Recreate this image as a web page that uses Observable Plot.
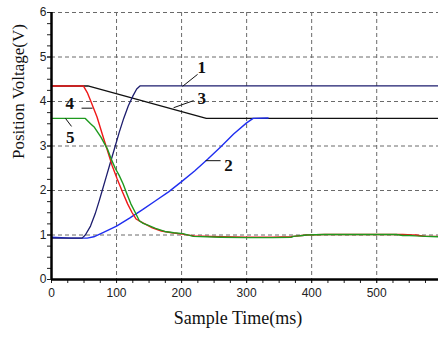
<!DOCTYPE html>
<html><head><meta charset="utf-8">
<script src="https://cdn.jsdelivr.net/npm/d3@7"></script>
<script src="https://cdn.jsdelivr.net/npm/@observablehq/plot@0.6"></script>
<style>body{margin:0;background:#fff}</style>
</head><body>
<script>
// Curve 1 (navy)
const t1 = [0, 47, 52, 60, 67, 73, 78, 84, 90, 97, 104, 111, 118, 125, 131, 136, 595];
const v1 = [0.93, 0.93, 1.0, 1.2, 1.47, 1.75, 2.0, 2.3, 2.6, 2.95, 3.3, 3.62, 3.9, 4.12, 4.28, 4.35, 4.35];
// Curve 2 (blue)
const t2 = [0, 30, 55, 65, 80, 100, 120, 140, 160, 180, 200, 220, 240, 260, 280, 300, 310, 333];
const v2 = [0.95, 0.93, 0.93, 0.96, 1.06, 1.2, 1.38, 1.57, 1.77, 1.97, 2.2, 2.44, 2.7, 2.98, 3.27, 3.52, 3.62, 3.63];
// Curve 3 (black)
const t3 = [0, 56, 238, 595];
const v3 = [4.35, 4.35, 3.62, 3.62];
// Curve 4 (red)
const t4 = [0, 49, 55, 60, 70, 78, 86, 93, 101, 109, 117, 124, 130, 137, 145, 155, 169, 185, 201, 219, 260, 300, 340, 368, 372, 385, 392, 420, 460, 500, 540, 555, 560, 565, 575, 595];
const v4 = [4.35, 4.35, 4.2, 4.02, 3.65, 3.27, 2.9, 2.57, 2.26, 1.97, 1.70, 1.5, 1.36, 1.3, 1.24, 1.16, 1.09, 1.05, 1.02, 0.98, 0.96, 0.95, 0.95, 0.96, 0.97, 0.99, 1.0, 1.01, 1.01, 1.01, 1.01, 1.0, 1.0, 0.99, 0.97, 0.97];
// Curve 5 (green)
const t5 = [0, 52, 60, 66, 76, 86, 92, 98, 104, 110, 116, 122, 129, 135, 141, 148, 160, 174, 188, 202, 218, 260, 300, 340, 369, 372, 386, 392, 420, 460, 500, 530, 540, 550, 560, 575, 595];
const v5 = [3.62, 3.62, 3.5, 3.42, 3.2, 2.93, 2.7, 2.5, 2.34, 2.15, 1.92, 1.70, 1.5, 1.32, 1.26, 1.22, 1.15, 1.08, 1.05, 1.03, 0.97, 0.95, 0.94, 0.94, 0.95, 0.97, 0.99, 1.0, 1.01, 1.01, 1.01, 1.01, 0.99, 0.99, 0.98, 0.97, 0.96];

const xTicks = [0, 100, 200, 300, 400, 500];
const yTicks = [0, 1, 2, 3, 4, 5, 6];
const xMinor = d3.range(0, 600, 25);
const yMinor = d3.range(0, 6.01, 0.25);

const labelNames = ["1", "2", "3", "4", "5"];
const labelX = [231, 272, 231, 28, 29];
const labelY = [4.77, 2.56, 4.07, 3.95, 3.19];
// leader lines: [x1, y1, x2, y2]
const leadX1 = [201.5, 237, 187.7, 46.2, 21.5];
const leadY1 = [4.34, 2.67, 3.86, 3.85, 3.62];
const leadX2 = [224.6, 260, 218.5, 63.1, 30.8];
const leadY2 = [4.61, 2.67, 4.02, 3.85, 3.44];

const pts = (t, v) => t.map((x, i) => ({t: x, v: v[i]}));
const labels = labelNames.map((n, i) => ({n, x: labelX[i], y: labelY[i]}));
const leads = labelNames.map((n, i) => ({x1: leadX1[i], y1: leadY1[i], x2: leadX2[i], y2: leadY2[i]}));

const tickFont = "Liberation Sans, Arial, sans-serif";
const serif = "Liberation Serif, Times New Roman, serif";
const gridStyle = {stroke: "#6a6a6a", strokeOpacity: 1, strokeDasharray: "4,3", strokeWidth: 1};

const chart = Plot.plot({
  width: 438, height: 339,
  marginLeft: 51, marginRight: 0, marginTop: 12, marginBottom: 60,
  x: {domain: [0, 595]},
  y: {domain: [0, 6]},
  style: {background: "#fff", color: "#222"},
  marks: [
    Plot.gridX(xTicks.slice(1), gridStyle),
    Plot.gridY(yTicks.slice(1), gridStyle),
    Plot.axisX(xMinor, {tickSize: 4, tickFormat: () => "", label: null}),
    Plot.axisX(xTicks, {tickSize: 4, tickPadding: 5, fontSize: 12, fontFamily: tickFont, label: null}),
    Plot.axisY(yMinor, {tickSize: 4, tickFormat: () => "", label: null}),
    Plot.axisY(yTicks, {tickSize: 4, tickPadding: 1, fontSize: 12, fontFamily: tickFont, label: null}),
    Plot.line(pts(t3, v3), {x: "t", y: "v", stroke: "#111", strokeWidth: 1.4}),
    Plot.line(pts(t2, v2), {x: "t", y: "v", stroke: "#1f2ef0", strokeWidth: 1.4}),
    Plot.line(pts(t1, v1), {x: "t", y: "v", stroke: "#1d1d6e", strokeWidth: 1.3}),
    Plot.line(pts(t4, v4), {x: "t", y: "v", stroke: "#f01818", strokeWidth: 1.4}),
    Plot.line(pts(t5, v5), {x: "t", y: "v", stroke: "#1f9a1f", strokeWidth: 1.4}),
    Plot.link(leads, {x1: "x1", y1: "y1", x2: "x2", y2: "y2", stroke: "#111", strokeWidth: 1}),
    Plot.text(labels, {x: "x", y: "y", text: "n", fontSize: 17, fontWeight: "bold", fontFamily: serif, fill: "#111"}),
    Plot.ruleX([0], {stroke: "#000", strokeWidth: 2.5}),
    Plot.ruleY([0], {stroke: "#000", strokeWidth: 2.5}),
    Plot.text(["Sample Time(ms)"], {frameAnchor: "bottom", dy: 44, dx: -7, fontSize: 18, fontFamily: serif, fill: "#111"}),
    Plot.text(["Position Voltage(V)"], {frameAnchor: "left", dx: -33, dy: 13, rotate: -90, fontSize: 17, fontFamily: serif, fill: "#111"})
  ]
});
document.body.appendChild(chart);
</script>
</body></html>
